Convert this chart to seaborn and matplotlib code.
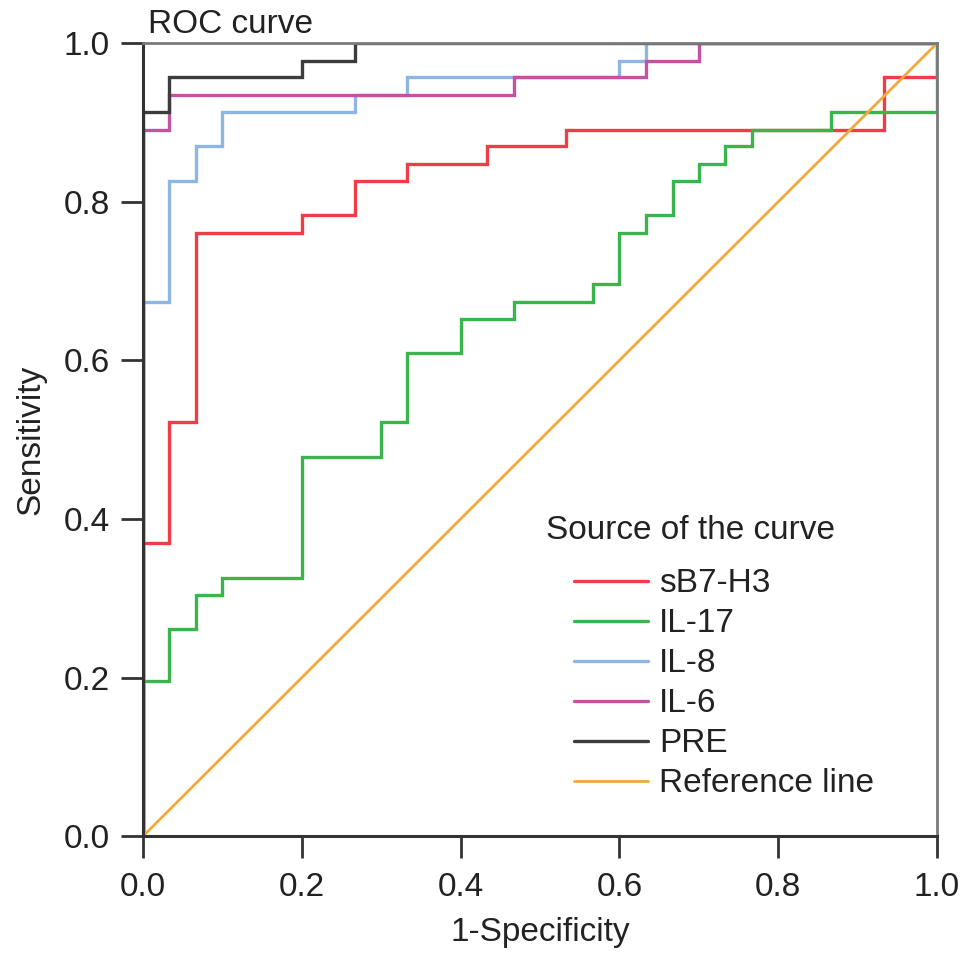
import numpy as np
import pandas as pd
import seaborn as sns
import matplotlib
matplotlib.use("Agg")
import matplotlib.pyplot as plt

# ROC corner points (1-specificity, sensitivity)
sb7h3_fpr = [0.0, 0.0, 0.033, 0.033, 0.067, 0.067, 0.2, 0.2, 0.267, 0.267, 0.333, 0.333,
             0.433, 0.433, 0.533, 0.533, 0.933, 0.933, 1.0, 1.0]
sb7h3_tpr = [0.0, 0.37, 0.37, 0.522, 0.522, 0.761, 0.761, 0.783, 0.783, 0.826, 0.826, 0.848,
             0.848, 0.87, 0.87, 0.891, 0.891, 0.957, 0.957, 1.0]

il17_fpr = [0.0, 0.0, 0.033, 0.033, 0.067, 0.067, 0.1, 0.1, 0.2, 0.2, 0.3, 0.3, 0.333, 0.333,
            0.4, 0.4, 0.467, 0.467, 0.567, 0.567, 0.6, 0.6, 0.633, 0.633, 0.667, 0.667,
            0.7, 0.7, 0.733, 0.733, 0.767, 0.767, 0.867, 0.867, 1.0, 1.0]
il17_tpr = [0.0, 0.196, 0.196, 0.261, 0.261, 0.304, 0.304, 0.326, 0.326, 0.478, 0.478, 0.522,
            0.522, 0.609, 0.609, 0.652, 0.652, 0.674, 0.674, 0.696, 0.696, 0.761, 0.761, 0.783,
            0.783, 0.826, 0.826, 0.848, 0.848, 0.87, 0.87, 0.891, 0.891, 0.913, 0.913, 1.0]

il8_fpr = [0.0, 0.0, 0.033, 0.033, 0.067, 0.067, 0.1, 0.1, 0.267, 0.267, 0.333, 0.333,
           0.6, 0.6, 0.633, 0.633, 1.0]
il8_tpr = [0.0, 0.674, 0.674, 0.826, 0.826, 0.87, 0.87, 0.913, 0.913, 0.935, 0.935, 0.957,
           0.957, 0.978, 0.978, 1.0, 1.0]

il6_fpr = [0.0, 0.0, 0.033, 0.033, 0.467, 0.467, 0.633, 0.633, 0.7, 0.7, 1.0]
il6_tpr = [0.0, 0.891, 0.891, 0.935, 0.935, 0.957, 0.957, 0.978, 0.978, 1.0, 1.0]

pre_fpr = [0.0, 0.0, 0.033, 0.033, 0.2, 0.2, 0.267, 0.267, 1.0]
pre_tpr = [0.0, 0.913, 0.913, 0.957, 0.957, 0.978, 0.978, 1.0, 1.0]

ref_fpr = [0.0, 1.0]
ref_tpr = [0.0, 1.0]

curve_names = ["sB7-H3", "IL-17", "IL-8", "IL-6", "PRE", "Reference line"]
curve_colors = ["#f03c46", "#3cb44e", "#8db6e3", "#c2539f", "#3c3c3c", "#f2a93b"]
tick_values = [0.0, 0.2, 0.4, 0.6, 0.8, 1.0]

curves = [(sb7h3_fpr, sb7h3_tpr), (il17_fpr, il17_tpr), (il8_fpr, il8_tpr),
          (il6_fpr, il6_tpr), (pre_fpr, pre_tpr), (ref_fpr, ref_tpr)]
frames = []
for name, (fx, ty) in zip(curve_names, curves):
    frames.append(pd.DataFrame({"fpr": fx, "tpr": ty, "curve": name,
                                "order": np.arange(len(fx))}))
df = pd.concat(frames, ignore_index=True)

sns.set_style("white")
plt.rcParams["font.family"] = ["Liberation Sans", "DejaVu Sans"]
fs = 24
txt = "#222222"

fig = plt.figure(figsize=(9.69, 9.6), dpi=100)
ax = fig.add_axes([0.1476, 0.129, 0.8194, 0.826])

sns.lineplot(data=df, x="fpr", y="tpr", hue="curve", hue_order=curve_names,
             palette=curve_colors, sort=False, estimator=None, units="curve",
             linewidth=2.4, ax=ax, legend=False)
for line in ax.get_lines():
    line.set_solid_joinstyle("miter")
ax.get_lines()[-1].set_linewidth(2.0)

ax.set_xlim(0, 1)
ax.set_ylim(0, 1)
ax.set_xticks(tick_values)
ax.set_yticks(tick_values)
ax.set_xticklabels([f"{v:.1f}" for v in tick_values])
ax.set_yticklabels([f"{v:.1f}" for v in tick_values])
ax.tick_params(axis="both", direction="out", length=16, width=2, color="#333333",
               labelsize=fs, labelcolor=txt, bottom=True, left=True)
ax.tick_params(axis="x", pad=10)
ax.tick_params(axis="y", pad=8)

for side in ["left", "bottom"]:
    ax.spines[side].set_color("#333333")
    ax.spines[side].set_linewidth(2.2)
for side in ["top", "right"]:
    ax.spines[side].set_color("#7a7a7a")
    ax.spines[side].set_linewidth(2.0)
    ax.spines[side].set_visible(True)

ax.set_xlabel("1-Specificity", fontsize=fs, color=txt, labelpad=10)
ax.set_ylabel("Sensitivity", fontsize=fs, color=txt, labelpad=12)
ax.set_title("ROC curve", loc="left", fontsize=fs, color=txt, pad=7, x=0.006)

# legend: title placed on its own so the entries sit indented under it
ax.text(0.508, 0.385, "Source of the curve", transform=ax.transAxes,
        fontsize=fs, color=txt, va="center", ha="left")
handles = [plt.Line2D([], [], color=c, linewidth=2.4 if n != "Reference line" else 2.0)
           for n, c in zip(curve_names, curve_colors)]
leg = ax.legend(handles, curve_names, loc="lower left",
                bbox_to_anchor=(0.514, 0.017), frameon=False, fontsize=fs,
                handlelength=2.2, handletextpad=0.33, labelspacing=0.27,
                borderpad=0.2)
for t in leg.get_texts():
    t.set_color(txt)

fig.savefig("out.png", dpi=100)
